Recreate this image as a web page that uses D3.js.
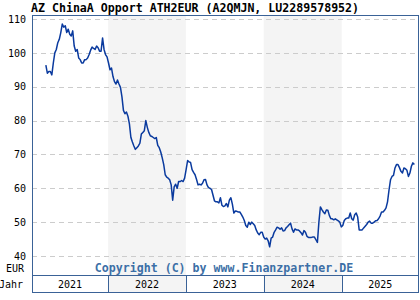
<!DOCTYPE html>
<html>
<head>
<meta charset="utf-8">
<script src="https://cdn.jsdelivr.net/npm/d3@7"></script>
<style>
  html, body { margin: 0; padding: 0; background: #fff; }
  svg { display: block; }
  text { font-family: "DejaVu Sans Mono", monospace; }
</style>
</head>
<body>
<div id="chart"></div>
<script>
// --- Data ---
const title = "AZ ChinaA Opport ATH2EUR (A2QMJN, LU2289578952)";
const copyright = "Copyright (C) by www.Finanzpartner.DE";
const startDate = "2021-03-15"; // weekly closes from here
const yTicks = [40, 50, 60, 70, 80, 90, 100, 110];
const years = [2021, 2022, 2023, 2024, 2025];
const shadedYears = [2022, 2024];
const prices = [
  96.4, 94, 94.5, 94.5, 93.5, 97, 100, 101, 103, 104,
  106, 108.5, 107.6, 108, 106, 107, 105.5, 105, 106.5, 102,
  100.5, 101, 98.5, 98, 97, 97, 98, 98, 98.5, 99.5,
  100.8, 101.7, 101.3, 101, 102, 101.5, 100.5, 100.5, 104.4, 101,
  99.5, 98.8, 97, 95, 95.5, 93, 91.5, 90.8, 92, 90.8,
  89.8, 87, 83, 82, 82.5, 81.3, 79, 75, 73.7, 72.5,
  71.5, 72, 72.5, 73.3, 76, 76.5, 77, 80, 78, 76.5,
  75.5, 75.3, 75, 74.7, 75, 72.7, 72, 70.7, 69, 67,
  64, 63.3, 63, 62.5, 61, 56.5, 60.4, 61.2, 60, 62,
  62, 62.3, 62, 63, 65.5, 68.2, 67.8, 67.6, 65.5, 64.7,
  64, 62.6, 61, 61.2, 61, 61.5, 62.5, 62.6, 61, 60.2,
  60, 59.7, 58, 56.3, 56, 56, 55.7, 57.2, 55, 54.6,
  54.8, 55.5, 54.5, 56.5, 57.2, 55.3, 52.7, 53.3, 53.2, 53,
  53, 52.3, 51.5, 50.5, 49, 48.5, 50, 49.3, 50, 49.5,
  49, 47.7, 46.8, 46.3, 47, 47, 45.6, 45, 45.3, 44.5,
  42.7, 45.3, 45.6, 47, 47.7, 48.5, 48.3, 47.9, 48.3, 47.4,
  47.5, 48.3, 48.7, 49.2, 49.7, 48, 47, 48, 47.7, 47.7,
  47.4, 46.9, 46.2, 47.5, 47, 45.8, 45.5, 45.5, 45.5, 45.6,
  45.6, 44.8, 44, 50, 54.5, 53.7, 53, 52.5, 53.6, 53.5,
  52, 51, 51, 50.7, 51, 50.7, 50.4, 50, 48.6, 49,
  50.5, 51, 51.2, 51.2, 52.7, 51, 50.6, 52.2, 52.7, 51.5,
  47.7, 47.7, 47.7, 48.3, 48.8, 49.3, 50, 50.3, 49.7, 49.7,
  50, 50.4, 50.5, 51, 51.8, 53, 53, 53.5, 54.2, 56,
  59.5, 62.5, 63.5, 63.8, 66, 67, 67, 66.1, 65, 64.5,
  66, 65.8, 65.3, 63.5, 64.5, 66.5, 67.5, 67
];

// --- Layout ---
const W = 420, H = 300;
const frame = { left: 32, right: 419, top: 15, bottom: 275, band: 293 };
const frameColor = "#3a6297";
const lineColor = "#0a3a9e";

const svg = d3.select("#chart").append("svg")
  .attr("width", W).attr("height", H);

const parse = d3.timeParse("%Y-%m-%d");
const t0 = parse(startDate);
const series = prices.map((v, i) => ({ date: d3.timeWeek.offset(t0, i), value: v }));

const x = d3.scaleTime()
  .domain([new Date(2021, 0, 1), new Date(2026, 0, 1)])
  .range([30.3, 419.5]);
const y = d3.scaleLinear().domain([40, 110]).range([256, 19]);

const clampX = v => Math.max(frame.left, Math.min(frame.right, v));

// shaded years (plot + band)
svg.append("g").selectAll("rect")
  .data(shadedYears)
  .join("rect")
  .attr("x", d => clampX(x(new Date(d, 0, 1))))
  .attr("width", d => clampX(x(new Date(d + 1, 0, 1))) - clampX(x(new Date(d, 0, 1))))
  .attr("y", frame.top)
  .attr("height", frame.band - frame.top)
  .attr("fill", "#f4f4f4");

// grid lines
svg.append("g").selectAll("line")
  .data(yTicks)
  .join("line")
  .attr("x1", frame.left).attr("x2", frame.right)
  .attr("y1", d => Math.round(y(d)) + 0.5).attr("y2", d => Math.round(y(d)) + 0.5)
  .attr("stroke", "#cccccc")
  .attr("stroke-dasharray", "5,4");

// y axis labels
const yAxis = d3.axisLeft(y).tickValues(yTicks).tickSize(0).tickPadding(0);
svg.append("g")
  .attr("transform", `translate(${frame.left - 6},0)`)
  .call(yAxis)
  .call(g => g.select(".domain").remove())
  .call(g => g.selectAll("text")
    .attr("font-family", "DejaVu Sans Mono, monospace")
    .attr("font-size", 10)
    .attr("fill", "#000"));

svg.append("text")
  .attr("x", frame.left - 8).attr("y", 272)
  .attr("text-anchor", "end")
  .attr("font-size", 10)
  .text("EUR");

svg.append("text")
  .attr("x", frame.left - 9).attr("y", 288)
  .attr("text-anchor", "end")
  .attr("font-size", 10)
  .text("Jahr");

// price line
const line = d3.line()
  .x(d => x(d.date))
  .y(d => y(d.value));

svg.append("path")
  .datum(series)
  .attr("d", line)
  .attr("fill", "none")
  .attr("stroke", lineColor)
  .attr("stroke-width", 1.5)
  .attr("stroke-linejoin", "round");

// copyright
svg.append("text")
  .attr("x", 224).attr("y", 272)
  .attr("text-anchor", "middle")
  .attr("font-size", 11.6)
  .attr("font-weight", "bold")
  .attr("fill", "#3c6fa6")
  .text(copyright);

// year band
svg.append("g").selectAll("line")
  .data(years.slice(1))
  .join("line")
  .attr("x1", d => Math.round(x(new Date(d, 0, 1))) + 0.5)
  .attr("x2", d => Math.round(x(new Date(d, 0, 1))) + 0.5)
  .attr("y1", frame.bottom).attr("y2", frame.band)
  .attr("stroke", frameColor);

svg.append("g").selectAll("text")
  .data(years)
  .join("text")
  .attr("x", d => (clampX(x(new Date(d, 0, 1))) + clampX(x(new Date(d + 1, 0, 1)))) / 2)
  .attr("y", 288)
  .attr("text-anchor", "middle")
  .attr("font-size", 10)
  .text(d => d);

// frame
svg.append("rect")
  .attr("x", frame.left + 0.5).attr("y", frame.top + 0.5)
  .attr("width", frame.right - frame.left - 1)
  .attr("height", frame.band - frame.top - 1)
  .attr("fill", "none")
  .attr("stroke", frameColor);

svg.append("line")
  .attr("x1", frame.left).attr("x2", frame.right)
  .attr("y1", frame.bottom + 0.5).attr("y2", frame.bottom + 0.5)
  .attr("stroke", frameColor);

// title
svg.append("text")
  .attr("x", 31).attr("y", 12)
  .attr("font-size", 11.6)
  .attr("font-weight", "bold")
  .text(title);
</script>
</body>
</html>
